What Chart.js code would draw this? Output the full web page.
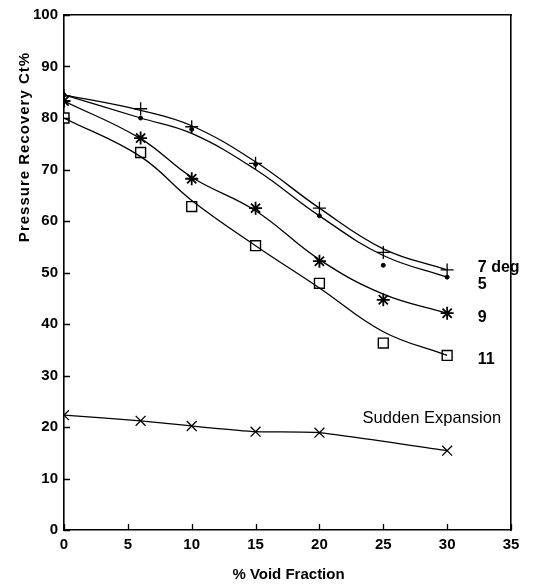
<!DOCTYPE html>
<html>
<head>
<meta charset="utf-8">
<script src="https://cdn.jsdelivr.net/npm/chart.js@4.4.1/dist/chart.umd.min.js"></script>
<style>
  html, body { margin: 0; padding: 0; background: #fff; }
  canvas { display: block; }
</style>
</head>
<body>
<canvas id="recoveryChart" width="541" height="586"></canvas>
<script>
// % void fraction where data was taken
const voidX = [0, 6, 10, 15, 20, 25, 30];
const suddenX = [0, 6, 10, 15, 20, 30];

// measured points (markers)
const deg7Pts = [84.3, 81.8, 78.3, 71.2, 62.5, 53.9, 50.5];
const deg5Pts = [84.5, 80.0, 77.8, 71.0, 61.0, 51.4, 49.1];
const deg9Pts = [83.3, 76.1, 68.2, 62.5, 52.2, 44.7, 42.1];
const deg11Pts = [80.0, 73.3, 62.8, 55.2, 47.9, 36.3, 33.9];
const suddenPts = [22.3, 21.2, 20.2, 19.1, 18.9, 15.4];

// faired curves at the same x
const deg7Curve = [84.5, 81.5, 78.5, 71.5, 62.5, 54.6, 50.5];
const deg5Curve = [84.5, 80.0, 77.0, 70.0, 61.0, 53.3, 49.1];
const deg9Curve = [83.3, 76.0, 68.5, 62.0, 52.5, 45.8, 42.1];
const deg11Curve = [80.0, 72.5, 64.0, 55.2, 47.0, 38.5, 33.9];

const xTicks = [0, 5, 10, 15, 20, 25, 30, 35];
const yTicks = [0, 10, 20, 30, 40, 50, 60, 70, 80, 90, 100];

// end labels: [text, x, y] in data units
const seriesLabels = [
    ['7 deg', 32.4, 51.0],
    ['5', 32.4, 47.7],
    ['9', 32.4, 41.3],
    ['11', 32.4, 33.1]
];
const suddenLabel = ['Sudden Expansion', 28.8, 21.7];

function pts(xs, ys) {
    return xs.map((x, i) => ({ x: x, y: ys[i] }));
}

function curve(xs, ys) {
    return {
        data: pts(xs, ys),
        borderColor: '#000',
        borderWidth: 1.3,
        pointRadius: 0,
        tension: 0.4,
        fill: false
    };
}

function markers(xs, ys, style, radius, bg, width) {
    return {
        data: pts(xs, ys),
        showLine: false,
        pointStyle: style,
        pointRadius: radius,
        pointBorderColor: '#000',
        pointBackgroundColor: bg,
        pointBorderWidth: width
    };
}

const FONT = '"Liberation Sans", Arial, sans-serif';

// inward tick marks, titles and end labels
const decorations = {
    id: 'decorations',
    afterDraw(chart) {
        const c = chart.ctx;
        const xs = chart.scales.x;
        const ys = chart.scales.y;
        const area = chart.chartArea;
        c.save();
        c.strokeStyle = '#000';
        c.lineWidth = 1.3;
        c.beginPath();
        xTicks.forEach(v => {
            const px = Math.round(xs.getPixelForValue(v)) + 0.5;
            c.moveTo(px, area.bottom);
            c.lineTo(px, area.bottom - 6);
        });
        yTicks.forEach(v => {
            const py = Math.round(ys.getPixelForValue(v)) + 0.5;
            c.moveTo(area.left, py);
            c.lineTo(area.left + 6, py);
        });
        c.stroke();

        c.fillStyle = '#000';
        c.textBaseline = 'middle';
        c.textAlign = 'left';
        c.font = 'bold 16px ' + FONT;
        seriesLabels.forEach(l => {
            c.fillText(l[0], xs.getPixelForValue(l[1]), ys.getPixelForValue(l[2]));
        });
        c.textAlign = 'center';
        c.font = '16.5px ' + FONT;
        c.fillText(suddenLabel[0], xs.getPixelForValue(suddenLabel[1]), ys.getPixelForValue(suddenLabel[2]));

        // axis titles
        c.font = 'bold 15px ' + FONT;
        c.fillText('% Void Fraction', (area.left + area.right) / 2 + 1, 575);
        c.translate(25, 147);
        c.rotate(-Math.PI / 2);
        c.letterSpacing = '1px';
        c.fillText('Pressure Recovery Ct%', 0, 0);
        c.restore();
    }
};

const tickFont = { family: FONT, size: 15, weight: 'bold' };

new Chart(document.getElementById('recoveryChart'), {
    type: 'line',
    data: {
        datasets: [
            curve(voidX, deg7Curve),
            curve(voidX, deg5Curve),
            curve(voidX, deg9Curve),
            curve(voidX, deg11Curve),
            {
                data: pts(suddenX, suddenPts),
                borderColor: '#000',
                borderWidth: 1.3,
                pointRadius: 0,
                tension: 0.15,
                fill: false
            },
            markers(voidX, deg7Pts, 'cross', 6.5, '#000', 1.3),
            markers(voidX, deg5Pts, 'circle', 2, '#000', 1),
            markers(voidX, deg9Pts, 'star', 6.5, '#000', 1.8),
            markers(voidX, deg11Pts, 'rect', 7, '#fff', 1.4),
            markers(suddenX, suddenPts, 'crossRot', 7, '#000', 1.3)
        ]
    },
    options: {
        responsive: false,
        animation: false,
        layout: { padding: { top: 14, right: 30, left: 0, bottom: 0 } },
        plugins: {
            legend: { display: false },
            tooltip: { enabled: false }
        },
        scales: {
            x: {
                type: 'linear',
                min: 0,
                max: 35,
                afterFit: s => { s.height = 56; },
                afterBuildTicks: s => { s.ticks = xTicks.map(v => ({ value: v })); },
                grid: { display: false, drawTicks: false },
                border: { display: true, color: '#000', width: 1.6 },
                ticks: { color: '#000', padding: 6, font: tickFont }
            },
            y: {
                min: 0,
                max: 100,
                afterFit: s => { s.width = 64; },
                afterBuildTicks: s => { s.ticks = yTicks.map(v => ({ value: v })); },
                grid: { display: false, drawTicks: false },
                border: { display: true, color: '#000', width: 1.6 },
                ticks: { color: '#000', padding: 6, font: tickFont }
            },
            xTop: {
                type: 'linear', position: 'top', min: 0, max: 35,
                afterFit: s => { s.height = 0; },
                grid: { display: false },
                ticks: { display: false },
                border: { display: true, color: '#000', width: 1.6 }
            },
            yRight: {
                type: 'linear', position: 'right', min: 0, max: 100,
                afterFit: s => { s.width = 0; },
                grid: { display: false },
                ticks: { display: false },
                border: { display: true, color: '#000', width: 1.6 }
            }
        }
    },
    plugins: [decorations]
});
</script>
</body>
</html>
